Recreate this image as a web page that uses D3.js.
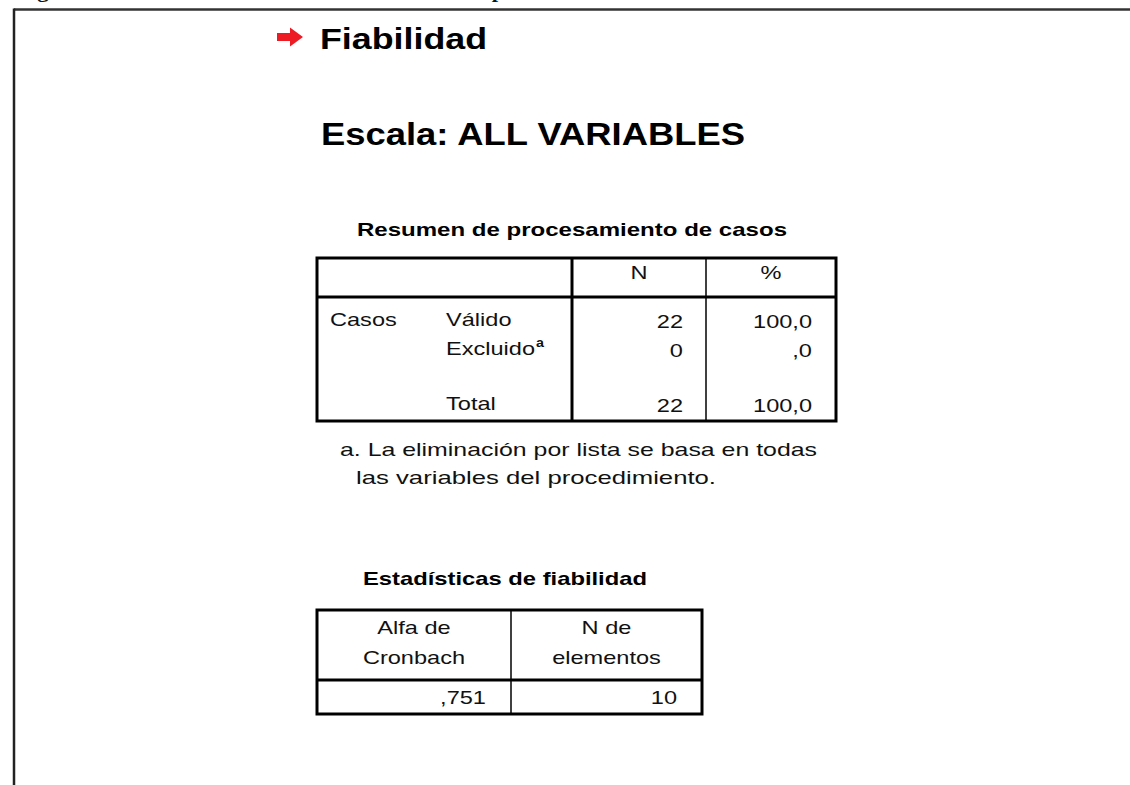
<!DOCTYPE html>
<html>
<head>
<meta charset="utf-8">
<script src="https://cdn.jsdelivr.net/npm/d3@7"></script>
<style>
  html, body { margin: 0; padding: 0; background: #fff; }
  svg { display: block; }
</style>
</head>
<body>
<svg id="chart" width="1130" height="785"></svg>
<script>
// ---------------- data ----------------
const caption = "Figura C-1: Prueba de fiabilidad de la encuesta aplicada a la muestra del estudio";
const procTitle = "Fiabilidad";
const scaleTitle = "Escala: ALL VARIABLES";
const summaryTitle = "Resumen de procesamiento de casos";
const summaryHeaders = ["N", "%"];
const summaryGroup = "Casos";
const summaryRows = ["Válido", "Excluido", "Total"];
const summarySup = ["", "a", ""];
const summaryN = [22, 0, 22];
const summaryPct = [100.0, 0.0, 100.0];
const footnoteLines = ["a. La eliminación por lista se basa en todas", "las variables del procedimiento."];
const reliabilityTitle = "Estadísticas de fiabilidad";
const reliabilityHeaders = [["Alfa de", "Cronbach"], ["N de", "elementos"]];
const reliabilityValues = [0.751, 10];

// ---------------- helpers ----------------
const svg = d3.select("#chart");
const FONT = "'Liberation Sans', Arial, Helvetica, sans-serif";
const KX = 1.24;

// SPSS style numbers with comma decimal and no leading zero
const fmtPct = v => { const s = d3.format(".1f")(v).replace(".", ","); return s.startsWith("0,") ? s.slice(1) : s; };
const fmtAlpha = v => { const s = d3.format(".3f")(v).replace(".", ","); return s.startsWith("0,") ? s.slice(1) : s; };

function txt(x, y, str, o = {}) {
  const size = o.size || 19, weight = o.weight || "normal", anchor = o.anchor || "start";
  const t = svg.append("text")
    .attr("x", x).attr("y", y)
    .attr("font-family", o.family || FONT)
    .attr("font-size", size)
    .attr("font-weight", weight)
    .attr("fill", o.fill || "#111")
    .text(str);
  const w = t.node().getComputedTextLength();
  const sw = o.width || w * (o.kx || KX);
  const x0 = anchor === "middle" ? x - sw / 2 : anchor === "end" ? x - sw : x;
  t.attr("x", x0).attr("textLength", sw).attr("lengthAdjust", "spacingAndGlyphs");
  return t;
}
function line(x1, y1, x2, y2, w, c) {
  svg.append("line").attr("x1", x1).attr("y1", y1).attr("x2", x2).attr("y2", y2)
    .attr("stroke", c || "#000").attr("stroke-width", w);
}

// ---------------- frame & caption (cut at the top edge, as in the source) ----------------
txt(17, -2, caption, { family: "'Liberation Serif', 'Times New Roman', serif", size: 18, weight: "bold", width: 780 });
line(14, 9.5, 1130, 9.5, 2.5, "#333");
line(14, 8.5, 14, 785, 2.5, "#222");

// ---------------- headings ----------------
svg.append("path")
  .attr("d", d3.line()([[277, 33], [290, 33], [290, 27.5], [303, 37], [290, 46.5], [290, 41], [277, 41]]) + "Z")
  .attr("fill", "#ed1c24");
txt(320, 49, procTitle, { size: 29, weight: "bold", width: 167, fill: "#000" });
txt(321, 145, scaleTitle, { size: 31, weight: "bold", width: 424, fill: "#000" });

// ---------------- summary table ----------------
const t1 = { left: 317, right: 836, top: 258, head: 297, bottom: 421 };
const t1cols = d3.scaleOrdinal().domain(["label", "N", "%"]).range([317, 572, 706]);
const t1colEnd = d3.scaleOrdinal().domain(["label", "N", "%"]).range([572, 706, 836]);
const rowY = d3.scaleOrdinal().domain(summaryRows).range([326, 355, 410]);

txt(357, 236, summaryTitle, { size: 19, weight: "bold", width: 430, fill: "#000" });

summaryHeaders.forEach(h => {
  txt((t1cols(h) + t1colEnd(h)) / 2, 279, h, { anchor: "middle" });
});
txt(330, rowY("Válido"), summaryGroup);
summaryRows.forEach((r, i) => {
  const t = txt(446, rowY(r), r);
  if (summarySup[i]) {
    const bb = t.node().getBBox();
    txt(446 + bb.width + 1, rowY(r) - 8, summarySup[i], { size: 13, weight: "bold", kx: 1.1 });
  }
  txt(t1colEnd("N") - 23, rowY(r) + 2, String(summaryN[i]), { anchor: "end" });
  txt(t1colEnd("%") - 24, rowY(r) + 2, fmtPct(summaryPct[i]), { anchor: "end" });
});

// grid lines
line(t1.left, t1.head, t1.right, t1.head, 3);
line(t1cols("N"), t1.top, t1cols("N"), t1.bottom, 3);
line(t1cols("%"), t1.top, t1cols("%"), t1.bottom, 1.5);
svg.append("rect").attr("x", t1.left).attr("y", t1.top)
  .attr("width", t1.right - t1.left).attr("height", t1.bottom - t1.top)
  .attr("fill", "none").attr("stroke", "#000").attr("stroke-width", 3);

// footnote
txt(340, 456, footnoteLines[0], { width: 477 });
txt(356, 484, footnoteLines[1], { width: 360 });

// ---------------- reliability table ----------------
const t2 = { left: 317, right: 702, top: 610, head: 680, bottom: 714, mid: 511 };
const t2mid = [t2.left, t2.mid, t2.right];

txt(363, 585, reliabilityTitle, { size: 19, weight: "bold", width: 284, fill: "#000" });

reliabilityHeaders.forEach((lines, i) => {
  const cx = (t2mid[i] + t2mid[i + 1]) / 2;
  lines.forEach((l, j) => txt(cx, 634 + j * 30, l, { anchor: "middle" }));
});
const valStr = [fmtAlpha(reliabilityValues[0]), String(reliabilityValues[1])];
valStr.forEach((v, i) => txt(t2mid[i + 1] - 25, 704, v, { anchor: "end" }));

line(t2.left, t2.head, t2.right, t2.head, 3);
line(t2.mid, t2.top, t2.mid, t2.bottom, 1.5);
svg.append("rect").attr("x", t2.left).attr("y", t2.top)
  .attr("width", t2.right - t2.left).attr("height", t2.bottom - t2.top)
  .attr("fill", "none").attr("stroke", "#000").attr("stroke-width", 3);
</script>
</body>
</html>
